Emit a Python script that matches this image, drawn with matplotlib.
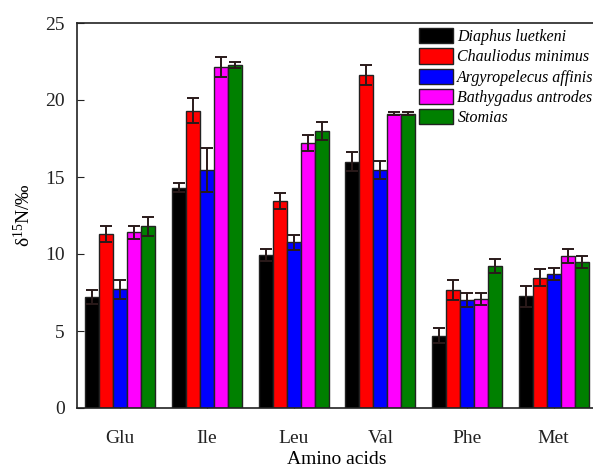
import matplotlib
matplotlib.use("Agg")
import matplotlib.pyplot as plt
import numpy as np

plt.rcParams['font.family'] = ['Liberation Serif', 'DejaVu Serif']
plt.rcParams['mathtext.fontset'] = 'custom'
plt.rcParams['mathtext.rm'] = 'Liberation Serif'
plt.rcParams['mathtext.it'] = 'Liberation Serif:italic'

categories = ['Glu', 'Ile', 'Leu', 'Val', 'Phe', 'Met']
species = ['Diaphus luetkeni', 'Chauliodus minimus', 'Argyropelecus affinis',
           'Bathygadus antrodes', 'Stomias']
colors = ['#000000', '#ff0000', '#0000ff', '#ff00ff', '#008000']

diaphus = [7.2, 14.3, 9.95, 16.0, 4.7, 7.25]
chauliodus = [11.3, 19.3, 13.45, 21.6, 7.65, 8.45]
argyropelecus = [7.7, 15.45, 10.75, 15.45, 7.0, 8.7]
bathygadus = [11.4, 22.15, 17.2, 19.1, 7.1, 9.85]
stomias = [11.8, 22.25, 18.0, 19.1, 9.2, 9.5]

diaphus_err = [0.45, 0.3, 0.4, 0.6, 0.5, 0.67]
chauliodus_err = [0.5, 0.8, 0.5, 0.65, 0.65, 0.55]
argyropelecus_err = [0.6, 1.45, 0.5, 0.6, 0.45, 0.4]
bathygadus_err = [0.4, 0.65, 0.5, 0.1, 0.4, 0.45]
stomias_err = [0.6, 0.2, 0.6, 0.1, 0.45, 0.4]

values = [diaphus, chauliodus, argyropelecus, bathygadus, stomias]
errors = [diaphus_err, chauliodus_err, argyropelecus_err, bathygadus_err, stomias_err]

fig = plt.figure(figsize=(5.93, 4.68), dpi=100)
ax = fig.add_axes([77/593, 60/468, 520/593, 385/468])

x = np.arange(len(categories))
w = 0.161
for i, (v, e, c, s) in enumerate(zip(values, errors, colors, species)):
    ax.bar(x + (i - 2) * w, v, width=w, color=c, edgecolor='#222222', linewidth=1.0,
           label=s, zorder=2)
    ax.errorbar(x + (i - 2) * w, v, yerr=e, fmt='none', ecolor='#2a1a1a',
                elinewidth=1.4, capsize=4, capthick=1.4, zorder=3)

ax.set_xlim(-0.5, 5.5)
ax.set_ylim(0, 25)
ax.set_yticks([0, 5, 10, 15, 20, 25])
ax.set_xticks(x)
ax.set_xticklabels(categories)
ax.tick_params(axis='y', direction='in', length=5, labelsize=14, colors='#222222', pad=9)
ax.tick_params(axis='x', direction='in', length=3, labelsize=14, colors='#222222', pad=16)
for sp in ax.spines.values():
    sp.set_color('#222222')
    sp.set_linewidth(1.2)
ax.spines['right'].set_visible(False)

ax.set_xlabel('Amino acids', fontsize=14, labelpad=3)
ax.set_ylabel('δ$^{15}$N/‰', fontsize=14, labelpad=8)

leg = ax.legend(loc='upper left', bbox_to_anchor=((419 - 77) / 520, 1 - 5 / 385),
                frameon=False,
                prop={'family': 'Liberation Serif', 'style': 'italic', 'size': 11.5},
                handlelength=2.1, handleheight=1.1, handletextpad=0.3,
                labelspacing=0.2, borderaxespad=0.0, borderpad=0.0)

fig.savefig('out.png', dpi=100)
